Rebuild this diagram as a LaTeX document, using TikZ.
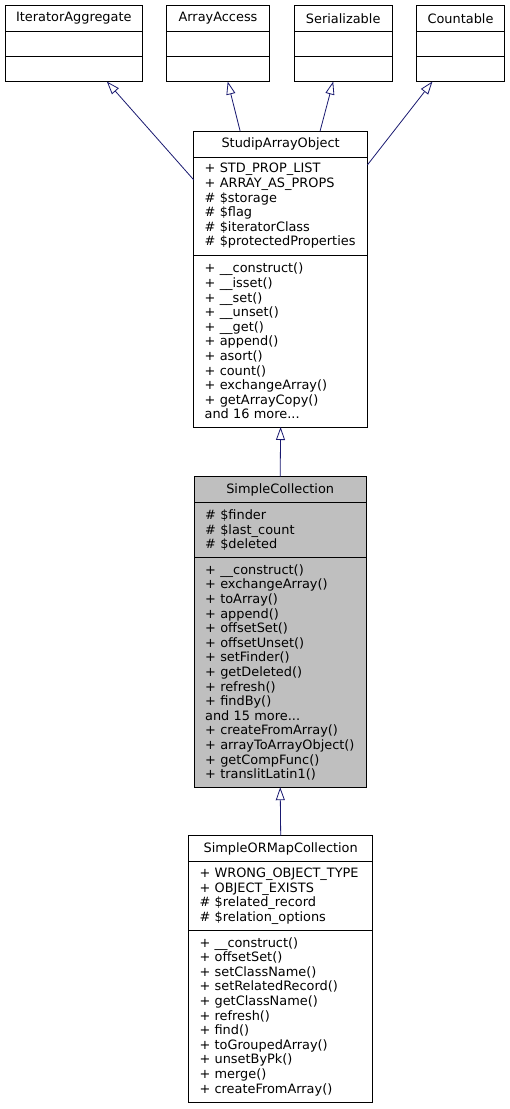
\documentclass[tikz,border=0pt]{standalone}
\usepackage{fontspec}
\setmainfont{DejaVu Sans}
\usetikzlibrary{positioning, calc, arrows.meta}
\definecolor{edgeblue}{HTML}{191970}
\definecolor{nodegray}{HTML}{BFBFBF}

\begin{document}
\begin{tikzpicture}[x= 1pt, y= -1pt,
	cls/.style= {draw, line width= 1pt, outer sep= 0pt, inner xsep= 10.8pt, inner ysep= 0pt, font= \fontsize{12.9}{14.6}\selectfont},
	wd/.style= {minimum width= #1pt, text width= #1pt-21.6pt},
	ht/.style= {minimum height= #1pt},
	head/.style= {cls, align= center, anchor= north},
	body/.style= {cls, align= left},
	inherit/.style= {draw= edgeblue, line width= 0.8pt, -{Triangle[open, length= 13pt, width= 9pt]}}]
\useasboundingbox (0, 0) rectangle (510, 1109);
% インタフェース
	\node[head, wd= 137.5, ht= 26] (ia) at (73.8, 5.5) {IteratorAggregate};
	\node[body, wd= 137.5, ht= 25, below= 0pt of ia] (ia-a) {};
	\node[body, wd= 137.5, ht= 25, below= 0pt of ia-a] (ia-m) {};
	\node[head, wd= 102.6, ht= 26] (aa) at (218, 5.5) {ArrayAccess};
	\node[body, wd= 102.6, ht= 25, below= 0pt of aa] (aa-a) {};
	\node[body, wd= 102.6, ht= 25, below= 0pt of aa-a] (aa-m) {};
	\node[head, wd= 98.3, ht= 26] (ser) at (343.2, 5.5) {Serializable};
	\node[body, wd= 98.3, ht= 25, below= 0pt of ser] (ser-a) {};
	\node[body, wd= 98.3, ht= 25, below= 0pt of ser-a] (ser-m) {};
	\node[head, wd= 87.6, ht= 26] (cnt) at (460.5, 5.5) {Countable};
	\node[body, wd= 87.6, ht= 25, below= 0pt of cnt] (cnt-a) {};
	\node[body, wd= 87.6, ht= 25, below= 0pt of cnt-a] (cnt-m) {};
% StudipArrayObject
	\node[head, wd= 173.5, ht= 26] (sao) at (280.6, 131) {StudipArrayObject};
	\node[body, wd= 173.5, ht= 98, below= 0pt of sao] (sao-a) {+~STD\_PROP\_LIST\\ +~ARRAY\_AS\_PROPS\\ \#~\$storage\\ \#~\$flag\\ \#~\$iteratorClass\\ \#~\$protectedProperties};
	\node[body, wd= 173.5, ht= 172, below= 0pt of sao-a] (sao-m) {+~\_\_construct()\\ +~\_\_isset()\\ +~\_\_set()\\ +~\_\_unset()\\ +~\_\_get()\\ +~append()\\ +~asort()\\ +~count()\\ +~exchangeArray()\\ +~getArrayCopy()\\ and 16 more...};
% SimpleCollection（注目クラス）
	\node[head, fill= nodegray, wd= 171.7, ht= 26] (sc) at (280.2, 476.7) {SimpleCollection};
	\node[body, fill= nodegray, wd= 171.7, ht= 55, below= 0pt of sc] (sc-a) {\#~\$finder\\ \#~\$last\_count\\ \#~\$deleted};
	\node[body, fill= nodegray, wd= 171.7, ht= 229.5, below= 0pt of sc-a] (sc-m) {+~\_\_construct()\\ +~exchangeArray()\\ +~toArray()\\ +~append()\\ +~offsetSet()\\ +~offsetUnset()\\ +~setFinder()\\ +~getDeleted()\\ +~refresh()\\ +~findBy()\\ and 15 more...\\ +~createFromArray()\\ +~arrayToArrayObject()\\ +~getCompFunc()\\ +~translitLatin1()};
% SimpleORMapCollection
	\node[head, wd= 184, ht= 26] (sorm) at (280.7, 835.7) {SimpleORMapCollection};
	\node[body, wd= 184, ht= 69, below= 0pt of sorm] (sorm-a) {+~WRONG\_OBJECT\_TYPE\\ +~OBJECT\_EXISTS\\ \#~\$related\_record\\ \#~\$relation\_options};
	\node[body, wd= 184, ht= 171.5, below= 0pt of sorm-a] (sorm-m) {+~\_\_construct()\\ +~offsetSet()\\ +~setClassName()\\ +~setRelatedRecord()\\ +~getClassName()\\ +~refresh()\\ +~find()\\ +~toGroupedArray()\\ +~unsetByPk()\\ +~merge()\\ +~createFromArray()};
% 継承の矢印
	\draw[inherit] ($(sao-a.north west)+(0, 23)$) -- ($(ia-m.south)+(33, 0)$);
	\draw[inherit] ($(sao.north)+(-40.5, 0)$) -- ($(aa-m.south)+(9.7, 0)$);
	\draw[inherit] ($(sao.north)+(39.5, 0)$) -- ($(ser-m.south)+(-10, 0)$);
	\draw[inherit] ($(sao-a.north east)+(0, 8)$) -- ($(cnt-m.south)+(-28, 0)$);
	\draw[inherit] (sc.north) -- (sao-m.south);
	\draw[inherit] (sorm.north) -- (sc-m.south);
\end{tikzpicture}
\end{document}
